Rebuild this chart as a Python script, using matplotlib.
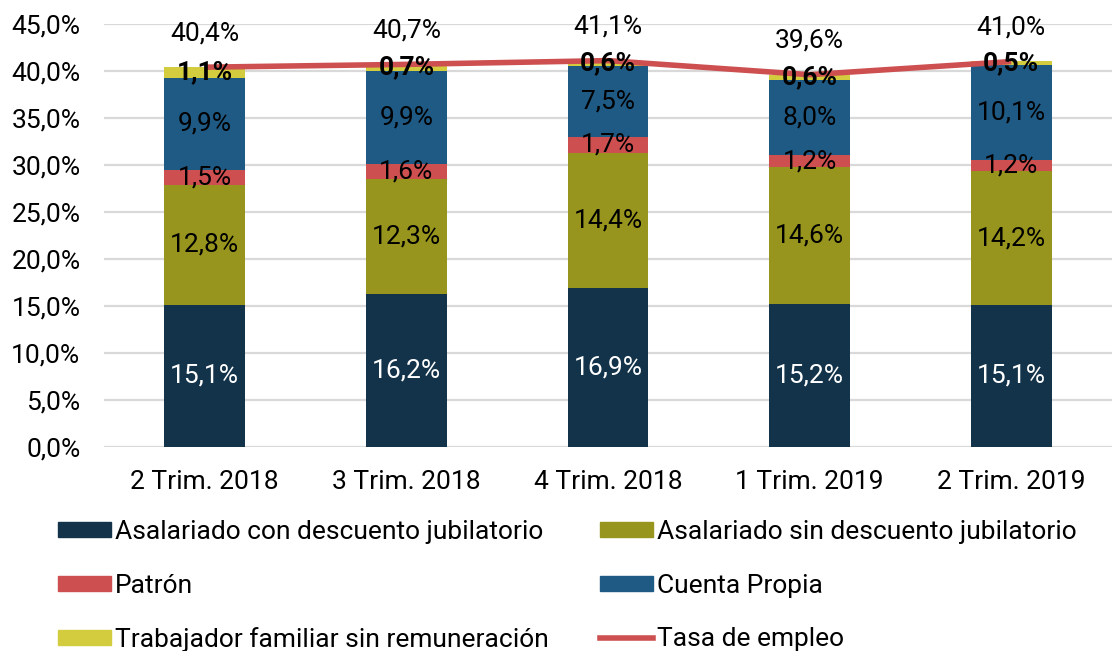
import matplotlib
matplotlib.use('Agg')
import matplotlib.pyplot as plt
from matplotlib.ticker import FuncFormatter, MultipleLocator
from matplotlib.patches import Patch
from matplotlib.lines import Line2D
import numpy as np

plt.rcParams['font.family'] = ['Roboto', 'DejaVu Sans']

quarters = ['2 Trim. 2018', '3 Trim. 2018', '4 Trim. 2018', '1 Trim. 2019', '2 Trim. 2019']
con_descuento = [15.1, 16.2, 16.9, 15.2, 15.1]
sin_descuento = [12.8, 12.3, 14.4, 14.6, 14.2]
patron = [1.5, 1.6, 1.7, 1.2, 1.2]
cuenta_propia = [9.9, 9.9, 7.5, 8.0, 10.1]
familiar = [1.1, 0.7, 0.6, 0.6, 0.5]
tasa_empleo = [40.4, 40.7, 41.1, 39.6, 41.0]

series = [
    ('Asalariado con descuento jubilatorio', con_descuento, '#13334a', 'white', 'normal'),
    ('Asalariado sin descuento jubilatorio', sin_descuento, '#97951d', 'black', 'normal'),
    ('Patrón', patron, '#cd4f4f', 'black', 'normal'),
    ('Cuenta Propia', cuenta_propia, '#1f5a84', 'black', 'normal'),
    ('Trabajador familiar sin remuneración', familiar, '#d4cc3f', 'black', 'bold'),
]
line_color = '#cd4f4f'


def fmt(v):
    return f'{v:.1f}'.replace('.', ',') + '%'


fig = plt.figure(figsize=(11.12, 6.51), dpi=100)
ax = fig.add_axes([104 / 1112, 1 - 446.5 / 651, 1 - 104 / 1112, (446.5 - 24) / 651])

x = np.arange(len(quarters))
bottom = np.zeros(len(quarters))
handles = {}
for name, vals, color, tcolor, weight in series:
    vals = np.array(vals)
    ax.bar(x, vals, 0.4, bottom=bottom, color=color, zorder=2)
    handles[name] = Patch(color=color, label=name)
    for xi, b, v in zip(x, bottom, vals):
        ax.text(xi, b + v / 2, fmt(v), ha='center', va='center', color=tcolor,
                fontsize=19, fontweight=weight, zorder=5)
    bottom = bottom + vals

ax.plot(x, tasa_empleo, color=line_color, lw=4, zorder=4, solid_capstyle='butt')
for xi, v in zip(x, tasa_empleo):
    ax.annotate(fmt(v), (xi, v), xytext=(0, 24.5), textcoords='offset points',
                ha='center', va='center', fontsize=19, color='black', zorder=5)

ax.set_xlim(-0.5, 4.5)
ax.set_ylim(0, 45)
ax.yaxis.set_major_locator(MultipleLocator(5))
ax.yaxis.set_major_formatter(FuncFormatter(lambda v, p: fmt(v)))
ax.set_xticks(x)
ax.set_xticklabels(quarters)
ax.tick_params(axis='both', length=0, labelsize=19)
ax.tick_params(axis='y', pad=17)
ax.tick_params(axis='x', pad=17)
ax.grid(axis='y', color='#d9d9d9', lw=1.6, zorder=0)
ax.set_axisbelow(True)
for s in ax.spines.values():
    s.set_visible(False)

tasa_handle = Line2D([], [], color=line_color, lw=4, label='Tasa de empleo')
order = [handles['Asalariado con descuento jubilatorio'], handles['Patrón'],
         handles['Trabajador familiar sin remuneración'],
         handles['Asalariado sin descuento jubilatorio'], handles['Cuenta Propia'], tasa_handle]
fig.legend(handles=order, ncol=2, loc='upper left', bbox_to_anchor=(58 / 1112, 1 - 520 / 651),
           frameon=False, fontsize=19, handlelength=2.0, handleheight=0.5, handletextpad=0.15,
           columnspacing=1.95, labelspacing=1.12, borderaxespad=0, borderpad=0)

fig.savefig('out.png', dpi=100)
